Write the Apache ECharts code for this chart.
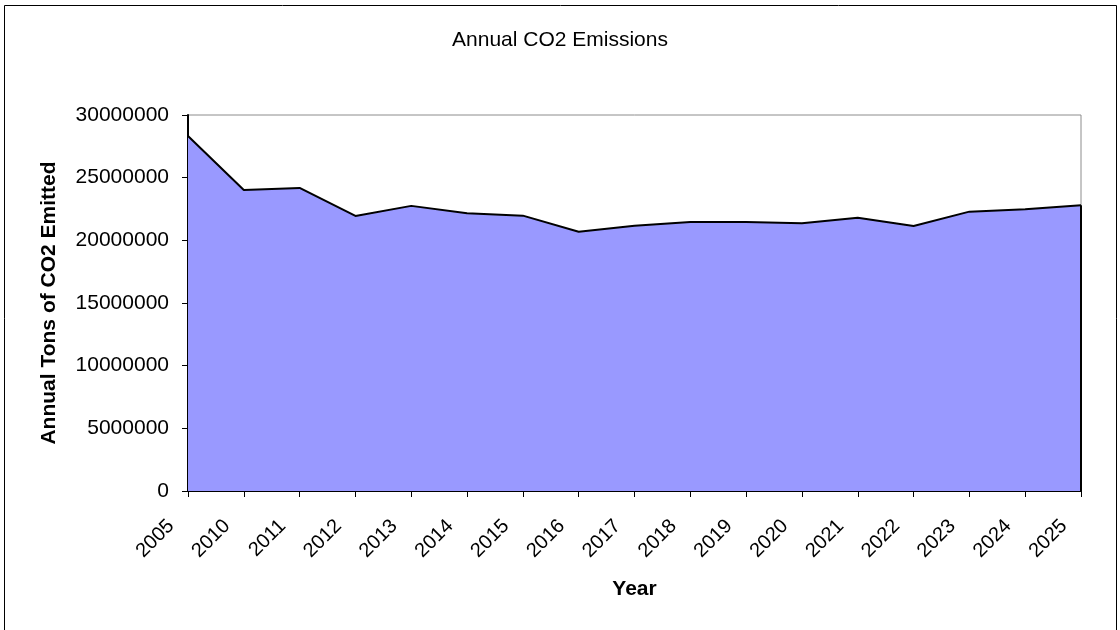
<!DOCTYPE html>
<html>
<head>
<meta charset="utf-8">
<script src="https://cdn.jsdelivr.net/npm/echarts@6/dist/echarts.min.js"></script>
<style>
  html, body { margin: 0; padding: 0; background: #fff; }
  #chart { width: 1120px; height: 630px; }
</style>
</head>
<body>
<div id="chart"></div>
<script>
// Years shown along the horizontal axis
const years = ['2005', '2010', '2011', '2012', '2013', '2014', '2015', '2016', '2017',
  '2018', '2019', '2020', '2021', '2022', '2023', '2024', '2025'];

// Annual tons of CO2 emitted per year
const emissions = [28330000, 24020000, 24180000, 21950000, 22750000, 22160000, 21970000,
  20690000, 21170000, 21470000, 21470000, 21360000, 21810000, 21150000, 22290000,
  22480000, 22800000];

const chart = echarts.init(document.getElementById('chart'));
const font = 'Liberation Sans, Arial, sans-serif';
const lastIdx = years.length - 1;

chart.setOption({
  animation: false,
  backgroundColor: '#ffffff',
  title: {
    text: 'Annual CO2 Emissions',
    left: 'center',
    top: 25,
    textStyle: { fontFamily: font, fontSize: 21, fontWeight: 'normal', color: '#000' }
  },
  graphic: [{
    type: 'rect',
    shape: { x: 4.5, y: 5.5, width: 1112, height: 700 },
    style: { fill: 'none', stroke: '#000', lineWidth: 1 },
    silent: true
  }],
  grid: {
    left: 188, right: 39, top: 115, bottom: 139,
    show: true, borderColor: '#8c8c8c', borderWidth: 1, backgroundColor: '#fff'
  },
  xAxis: {
    type: 'category',
    data: years,
    boundaryGap: false,
    name: 'Year',
    nameLocation: 'middle',
    nameGap: 88,
    nameTextStyle: { fontFamily: font, fontSize: 21, fontWeight: 'bold', color: '#000' },
    axisLine: { lineStyle: { color: '#000', width: 2 } },
    axisTick: { show: true, alignWithLabel: true, length: 6, lineStyle: { color: '#000' } },
    axisLabel: {
      rotate: 45, fontFamily: font, fontSize: 20, color: '#000',
      margin: 15, padding: [0, 24, 0, 0], interval: 0
    },
    splitLine: { show: false }
  },
  yAxis: {
    type: 'value',
    min: 0,
    max: 30000000,
    interval: 5000000,
    name: 'Annual Tons of CO2 Emitted',
    nameLocation: 'middle',
    nameGap: 128,
    nameTextStyle: { fontFamily: font, fontSize: 21, fontWeight: 'bold', color: '#000' },
    axisLine: { show: true, lineStyle: { color: '#000', width: 2 } },
    axisTick: { show: true, length: 6, lineStyle: { color: '#000' } },
    axisLabel: {
      fontFamily: font, fontSize: 21, color: '#000', margin: 19,
      formatter: (v) => String(v)
    },
    splitLine: { show: false }
  },
  series: [{
    type: 'line',
    data: emissions,
    symbol: 'none',
    lineStyle: { color: '#000', width: 2 },
    areaStyle: { color: '#9999ff', opacity: 1 },
    markLine: {
      silent: true,
      symbol: 'none',
      label: { show: false },
      lineStyle: { color: '#000', width: 2, type: 'solid' },
      data: [[
        { coord: [years[lastIdx], 0] },
        { coord: [years[lastIdx], emissions[lastIdx]] }
      ]]
    }
  }]
});
</script>
</body>
</html>
